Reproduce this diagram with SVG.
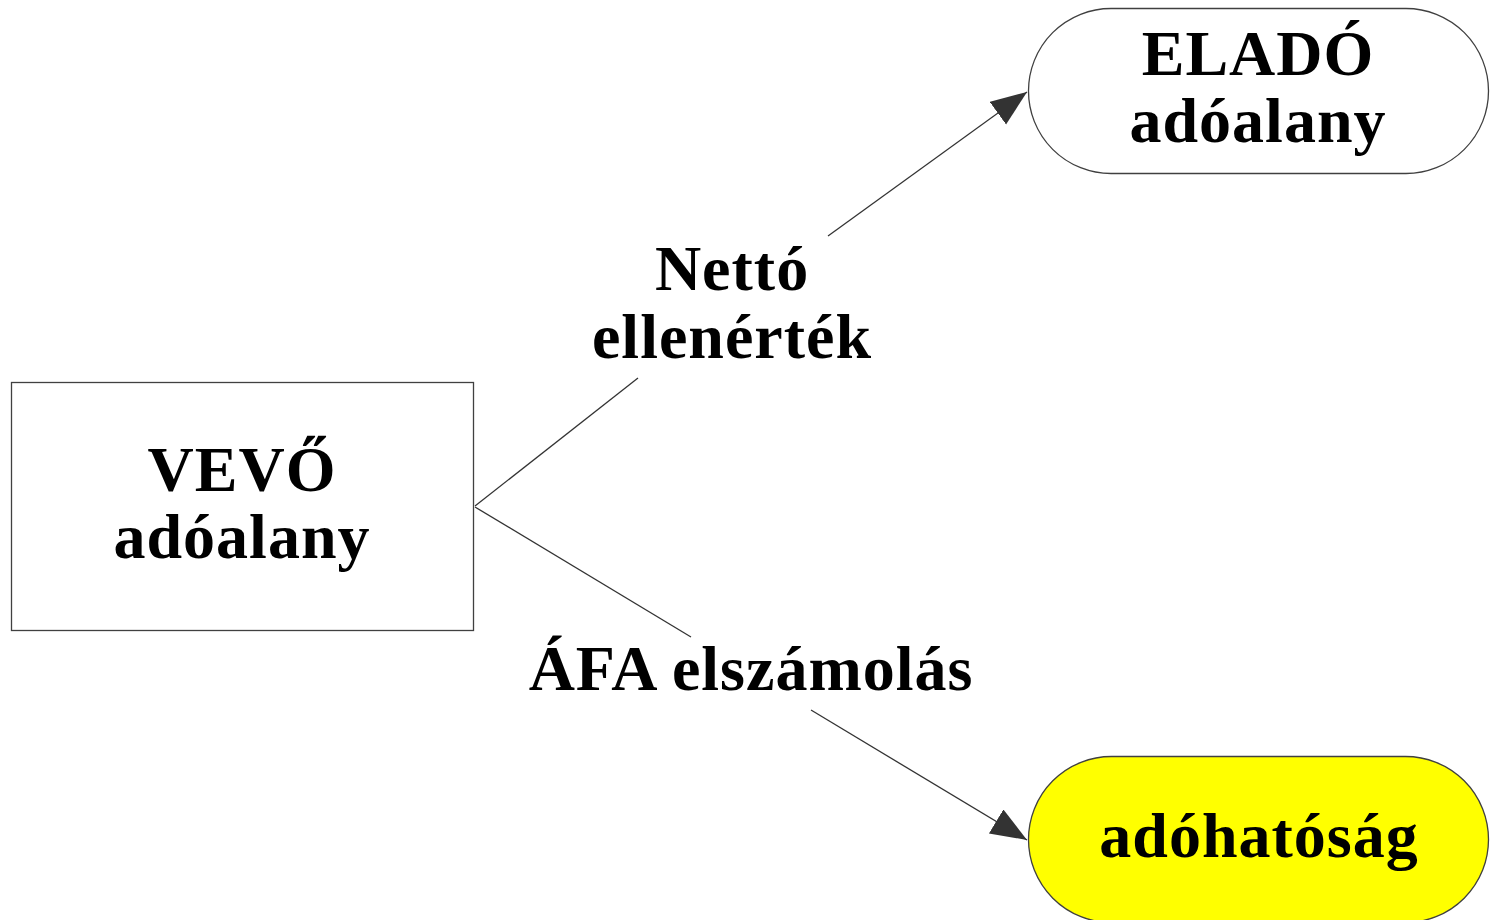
<svg xmlns="http://www.w3.org/2000/svg" width="1492" height="920" viewBox="0 0 1492 920">
<style>
.node{stroke:#404040;stroke-width:1.3}
.t{font-family:"Liberation Serif","Times New Roman",serif;font-weight:bold;font-size:64px;fill:#000;text-anchor:middle;letter-spacing:1px}
.c{stroke:#333;stroke-width:1.3;fill:none}
</style>
<defs>
<marker id="ah" markerUnits="userSpaceOnUse" markerWidth="40" markerHeight="30" refX="36" refY="14" orient="auto">
<path d="M0,0 L36,14 L0,28 Z" fill="#333"/>
</marker>
</defs>
<rect width="1492" height="920" fill="#fff"/>
<g id="connectors">
<path class="c" d="M475,506 L638,378"/>
<path class="c" d="M828,236 L1027,92" marker-end="url(#ah)"/>
<path class="c" d="M475,507 L691,637"/>
<path class="c" d="M811,710 L1027,840" marker-end="url(#ah)"/>
<text class="t" x="732" y="290">Nettó</text>
<text class="t" x="732" y="358">ellenérték</text>
<text class="t" x="751" y="690">ÁFA elszámolás</text>
</g>
<g id="vevo">
<rect class="node" x="11.5" y="382.5" width="462" height="248" fill="#fff"/>
<text class="t" x="242" y="491">VEVŐ</text>
<text class="t" x="242" y="558">adóalany</text>
</g>
<g id="elado">
<rect class="node" x="1028.5" y="8.5" width="460" height="165" rx="82.5" ry="82.5" fill="#fff"/>
<text class="t" x="1258" y="75">ELADÓ</text>
<text class="t" x="1258" y="142">adóalany</text>
</g>
<g id="adohatosag">
<rect class="node" x="1028.5" y="756.5" width="460" height="166" rx="83" ry="83" fill="#ffff00"/>
<text class="t" x="1259" y="857">adóhatóság</text>
</g>
</svg>
